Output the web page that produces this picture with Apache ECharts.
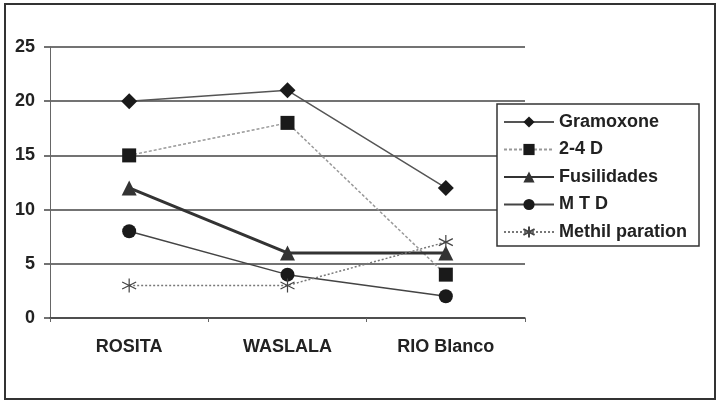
<!DOCTYPE html>
<html>
<head>
<meta charset="utf-8">
<script src="https://cdn.jsdelivr.net/npm/echarts@6/dist/echarts.min.js"></script>
<style>
html,body{margin:0;padding:0;background:#fff;}
#chart{width:720px;height:403px;}
</style>
</head>
<body>
<div id="chart"></div>
<script>
const categories = ['ROSITA', 'WASLALA', 'RIO Blanco'];
const gramoxone = [20, 21, 12];
const d24 = [15, 18, 4];
const fusilidades = [12, 6, 6];
const mtd = [8, 4, 2];
const methil = [3, 3, 7];
const yTicks = [0, 5, 10, 15, 20, 25];

const FONT = 'Arial, "Liberation Sans", sans-serif';
const asterisk = 'path://M5 0 L5 10 M0.7 2.5 L9.3 7.5 M0.7 7.5 L9.3 2.5';

const chart = echarts.init(document.getElementById('chart'), null, {renderer: 'canvas'});
chart.setOption({
  backgroundColor: '#fff',
  animation: false,
  graphic: [{
    type: 'rect',
    shape: {x: 5, y: 4, width: 710, height: 395},
    style: {fill: 'none', stroke: '#333', lineWidth: 2},
    z: -1
  }],
  grid: {left: 50, right: 195, top: 47, bottom: 85, containLabel: false},
  legend: {
    orient: 'vertical',
    left: 497,
    top: 104,
    padding: [9, 12, 5, 6],
    borderColor: '#333',
    borderWidth: 1.5,
    backgroundColor: '#fff',
    itemWidth: 50,
    itemHeight: 14,
    itemGap: 9.5,
    textStyle: {fontFamily: FONT, fontWeight: 'bold', fontSize: 18, lineHeight: 18, color: '#222'},
    data: ['Gramoxone', '2-4 D', 'Fusilidades', 'M T D', 'Methil paration']
  },
  xAxis: {
    type: 'category',
    data: categories,
    boundaryGap: true,
    axisLine: {show: true, lineStyle: {color: '#444', width: 1.5}},
    axisTick: {show: true, length: 4, lineStyle: {color: '#666'}},
    axisLabel: {fontFamily: FONT, fontWeight: 'bold', fontSize: 18, color: '#222', margin: 20}
  },
  yAxis: {
    type: 'value',
    min: 0, max: 25, interval: 5,
    axisLine: {show: true, lineStyle: {color: '#666', width: 1}},
    axisTick: {show: true, length: 6, lineStyle: {color: '#444', width: 1.5}},
    axisLabel: {fontFamily: FONT, fontWeight: 'bold', fontSize: 18, color: '#222', margin: 15,
      formatter: v => yTicks.includes(v) ? String(v) : ''},
    splitLine: {show: true, lineStyle: {color: '#444', width: 1.5}}
  },
  series: [
    {
      name: 'Gramoxone', type: 'line', data: gramoxone,
      symbol: 'diamond', symbolSize: 16,
      itemStyle: {color: '#1a1a1a'},
      lineStyle: {color: '#555', width: 1.5}
    },
    {
      name: '2-4 D', type: 'line', data: d24,
      symbol: 'rect', symbolSize: 14,
      itemStyle: {color: '#1a1a1a'},
      lineStyle: {color: '#999', width: 1.5, type: [3, 2]}
    },
    {
      name: 'Fusilidades', type: 'line', data: fusilidades,
      symbol: 'triangle', symbolSize: 15,
      itemStyle: {color: '#333'},
      lineStyle: {color: '#333', width: 3}
    },
    {
      name: 'M T D', type: 'line', data: mtd,
      symbol: 'circle', symbolSize: 14,
      itemStyle: {color: '#1a1a1a'},
      lineStyle: {color: '#444', width: 1.5}
    },
    {
      name: 'Methil paration', type: 'line', data: methil,
      symbol: asterisk, symbolSize: 14,
      itemStyle: {color: 'transparent', borderColor: '#444', borderWidth: 1.2},
      lineStyle: {color: '#777', width: 1.5, type: [2, 2]}
    }
  ]
});
</script>
</body>
</html>
